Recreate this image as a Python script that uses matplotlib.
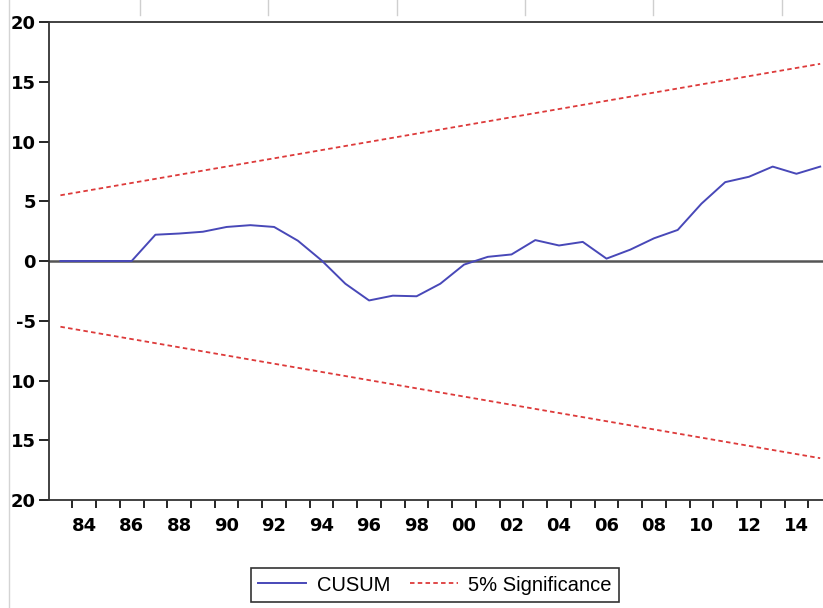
import matplotlib.pyplot as plt
from matplotlib.lines import Line2D

# CUSUM test values
years = list(range(1983, 2016))
cusum = [0.0, 0.0, 0.0, 0.0, 2.2, 2.3, 2.45, 2.85, 3.0, 2.85,
         1.7, 0.05, -1.9, -3.3, -2.9, -2.95, -1.9, -0.3, 0.35, 0.55,
         1.75, 1.3, 1.6, 0.2, 0.95, 1.9, 2.6, 4.8, 6.6, 7.05,
         7.9, 7.3, 7.9]

# 5% significance bounds (straight lines, start and end)
bound_years = [1983, 2015]
upper = [5.5, 16.5]
lower = [-5.5, -16.5]

ytick_vals = [20, 15, 10, 5, 0, -5, -10, -15, -20]
ytick_labels = ['20', '15', '10', '5', '0', '-5', '10', '15', '20']
xlabel_years = list(range(1984, 2015, 2))
xtick_labels = [str(y)[-2:] for y in xlabel_years]

fig = plt.figure(figsize=(8.23, 6.08), dpi=100)
ax = fig.add_axes([0.059, 0.1776, 0.952, 0.7862])

ax.axhline(0, color='#555555', lw=1.8, zorder=1)
ax.plot(years, cusum, color='#4848b8', lw=1.4, zorder=3, label='CUSUM')
ax.plot(bound_years, upper, color='#dd3a3a', lw=1.3, ls=(0, (2.5, 1.8)), zorder=2,
        label='5% Significance')
ax.plot(bound_years, lower, color='#dd3a3a', lw=1.3, ls=(0, (2.5, 1.8)), zorder=2)

ax.set_xlim(1982.5, 2015.5)
ax.set_ylim(-20, 20)

ax.set_yticks(ytick_vals)
ax.set_yticklabels(ytick_labels, fontsize=13, fontweight='bold')
ax.tick_params(axis='y', direction='out', length=7, width=1.2, pad=2)

ax.set_xticks(xlabel_years)
ax.set_xticklabels(xtick_labels, fontsize=13, fontweight='bold')
ax.set_xticks([y + 0.5 for y in range(1983, 2015)], minor=True)
ax.tick_params(axis='x', which='major', length=0, pad=12)
ax.tick_params(axis='x', which='minor', direction='out', length=6, width=1.2)

for side in ['left', 'bottom', 'top']:
    ax.spines[side].set_linewidth(1.3)
    ax.spines[side].set_color('#333333')
ax.spines['right'].set_visible(False)

# faint leftovers from the cropped screenshot
fig.add_artist(Line2D([9 / 823, 9 / 823], [0, 1], color='#d4d4d4', lw=1))
for px in [140, 268, 397, 525, 653, 782]:
    fig.add_artist(Line2D([px / 823, px / 823], [1 - 15 / 608, 1],
                          color='#cfcfcf', lw=1))

leg = fig.legend(loc='center', bbox_to_anchor=(0.5286, 0.0378), ncol=2,
                 frameon=True, fancybox=False, edgecolor='black',
                 prop={'family': 'Liberation Sans', 'size': 14.5},
                 handlelength=2.4, columnspacing=1.0, borderpad=0.35,
                 handletextpad=0.5)
leg.get_frame().set_linewidth(1.2)

fig.savefig('out.png', dpi=100)
